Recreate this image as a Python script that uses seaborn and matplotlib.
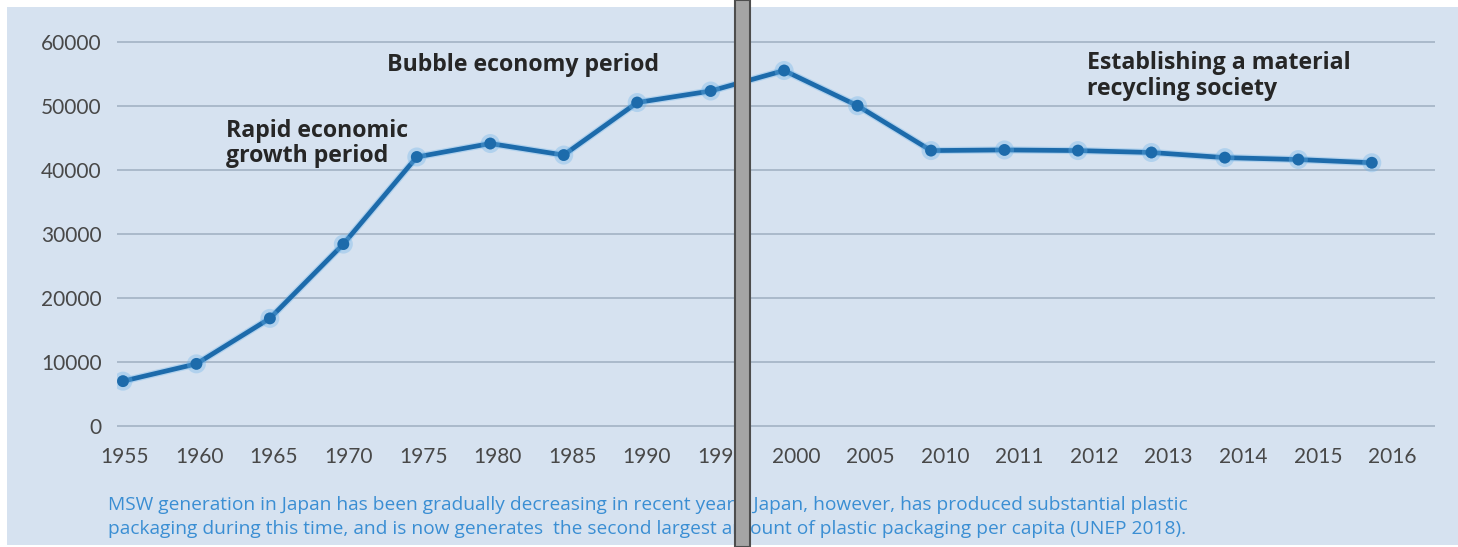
import numpy as np
import pandas as pd
import matplotlib
matplotlib.use("Agg")
import matplotlib.pyplot as plt
import matplotlib.patheffects as pe
import matplotlib.transforms as mtransforms
from matplotlib.patches import Rectangle
import seaborn as sns

# --- data ---
years = ["1955", "1960", "1965", "1970", "1975", "1980", "1985", "1990", "1995",
         "2000", "2005", "2010", "2011", "2012", "2013", "2014", "2015", "2016"]
msw = [7000, 9700, 16800, 28400, 42000, 44100, 42300, 50500, 52300,
       55500, 50000, 43000, 43100, 43000, 42700, 41900, 41600, 41100]
y_ticks = [0, 10000, 20000, 30000, 40000, 50000, 60000]

period_labels = ["Rapid economic\ngrowth period", "Bubble economy period",
                 "Establishing a material\nrecycling society"]
period_x = [1.40, 3.59, 13.13]
period_y = [44100, 56300, 54700]

caption = ("MSW generation in Japan has been gradually decreasing in recent years. Japan, however, has produced substantial plastic\n"
           "packaging during this time, and is now generates  the second largest amount of plastic packaging per capita (UNEP 2018).")

PANEL = "#d6e2f0"
LINE = "#1d6bab"
GRID = "#a3b3c4"
TXT = "#262626"

sns.set_theme(style="white")
plt.rcParams['font.family'] = ['Lato', 'DejaVu Sans']

df = pd.DataFrame({"pos": np.arange(len(years)), "msw": msw})

fig = plt.figure(figsize=(14.58, 5.47), dpi=100)
fig.patch.set_facecolor("white")
# light blue panel behind everything
fig.patches.append(Rectangle((7 / 1458, 2 / 547), 1 - 7 / 1458, 538 / 547,
                             transform=fig.transFigure, facecolor=PANEL,
                             edgecolor="none", zorder=-5))

ax = fig.add_axes([0.0802, 0.1978, 0.904, 0.7494])
ax.set_facecolor("none")

sns.lineplot(data=df, x="pos", y="msw", ax=ax, color=LINE, linewidth=3.4,
             marker="o", markersize=8.5, markeredgewidth=0, zorder=3,
             path_effects=[pe.Stroke(linewidth=5.2, foreground="#6db4ea", alpha=0.35), pe.Normal()])

ax.set_xlim(-0.082, 17.86)
ax.set_ylim(-2000, 62000)
ax.set_yticks(y_ticks)
ax.set_yticklabels([str(v) for v in y_ticks], fontsize=15, color="#484848")
ax.set_xticks(df["pos"])
ax.set_xticklabels(years, fontsize=15, color="#484848")
ax.tick_params(axis="both", length=0)
ax.tick_params(axis="y", pad=11)
ax.tick_params(axis="x", pad=6)
# the original's year labels drift a little to the right of the points
stretch = mtransforms.Affine2D().scale(1.015, 1)
for lab in ax.get_xticklabels():
    lab.set_transform(lab.get_transform() + stretch)

ax.yaxis.grid(True, color=GRID, linewidth=1.2)
ax.xaxis.grid(False)
ax.set_axisbelow(True)
for s in ax.spines.values():
    s.set_visible(False)
ax.set_xlabel("")
ax.set_ylabel("")

for lbl, x, y in zip(period_labels, period_x, period_y):
    ax.text(x, y, lbl, fontsize=16.7, fontweight="bold", color=TXT,
            family=["Open Sans", "DejaVu Sans"],
            ha="left", va="center", linespacing=1.1, zorder=4)

fig.text(108 / 1458, 1 - 517 / 547, caption, fontsize=13.8, color="#3a8ed3",
         family=["Open Sans", "DejaVu Sans"], ha="left", va="center",
         linespacing=1.38)

# grey divider bar running across the whole figure
fig.patches.append(Rectangle((735 / 1458, 0), 15 / 1458, 1, transform=fig.transFigure,
                             facecolor="#a4a4a4", edgecolor="#4d4d4d", linewidth=1.5,
                             zorder=10))

fig.savefig("out.png", dpi=100, facecolor=fig.get_facecolor())
